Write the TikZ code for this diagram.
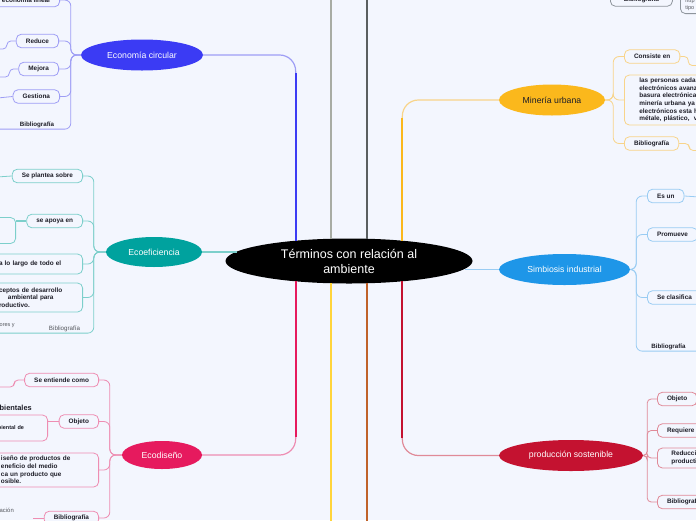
\documentclass[tikz,border=0pt]{standalone}
\usepackage{fontspec}
\setmainfont{Liberation Sans}
\usepackage{tikz}
\usetikzlibrary{shapes.geometric, calc}

\definecolor{fondo}{HTML}{F3F6FE}
\definecolor{tinta}{HTML}{1E1E28}
\definecolor{gristxt}{HTML}{55585E}
\definecolor{azul}{HTML}{3B3BF4}
\definecolor{azulB}{HTML}{9E9EF5}
\definecolor{teal}{HTML}{00A29E}
\definecolor{tealB}{HTML}{7CCFCB}
\definecolor{rosa}{HTML}{E61A5E}
\definecolor{rosaB}{HTML}{EE8DB2}
\definecolor{ambar}{HTML}{FBB81C}
\definecolor{ambarB}{HTML}{F8D48A}
\definecolor{celeste}{HTML}{1E96E8}
\definecolor{celesteB}{HTML}{99CCF3}
\definecolor{rojo}{HTML}{C41230}
\definecolor{rojoB}{HTML}{E08A98}
\definecolor{grisB}{HTML}{8E959C}
\definecolor{gris}{HTML}{A8ACA4}
\definecolor{oscuro}{HTML}{5A5F60}
\definecolor{amarillo}{HTML}{FFD43B}
\definecolor{marron}{HTML}{C0622A}

\begin{document}
\begin{tikzpicture}[x=1pt, y=-1pt,
   tema/.style={ellipse, inner sep=0pt, text=white, font=\fontsize{8.7}{10}\selectfont},
   caja/.style={rectangle, rounded corners=5pt, draw, fill=fondo, line width=0.8pt, inner xsep=9.6pt, inner ysep=0pt, minimum height=13.5pt, text=tinta, font=\bfseries\fontsize{6.4}{7.6}\selectfont},
   nota/.style={inner sep=1pt, text=tinta, font=\bfseries\fontsize{6.2}{7}\selectfont},
   rama/.style={line width=0.8pt, rounded corners=6pt},
   enlace/.style={line width=1.2pt, rounded corners=16pt},
   tronco/.style={line width=1.8pt}]

\useasboundingbox (0,0) rectangle (696,520);
\fill[fondo] (0,0) rectangle (696,520);
\clip (0,0) rectangle (696,520);

\node[ellipse, fill=black, text=white, inner sep=0pt, minimum width=247pt, minimum height=45pt, align=center, font=\fontsize{12.5}{15}\selectfont] (centro) at (349,261) {Términos con relación al\\ambiente};

\node[tema, fill=azul, minimum width=122pt, minimum height=31pt] (eco) at (142,55) {Economía circular};
\node[tema, fill=teal, minimum width=96pt, minimum height=30pt] (ecoef) at (154,252) {Ecoeficiencia};
\node[tema, fill=rosa, minimum width=80pt, minimum height=28pt] (ecodis) at (162,455) {Ecodiseño};
\node[tema, fill=ambar, text=tinta, minimum width=106pt, minimum height=31pt] (mineria) at (552,100) {Minería urbana};
\node[tema, fill=celeste, minimum width=131pt, minimum height=31pt] (simbiosis) at (564.5,269.5) {Simbiosis industrial};
\node[tema, fill=rojo, minimum width=144pt, minimum height=31pt] (prod) at (571,455.5) {producción sostenible};

\coordinate (g1) at (331,-5);
\coordinate (g2) at (367,-5);
\coordinate (g3) at (331,525);
\coordinate (g4) at (367,525);
\draw[tronco, gris] (g1) -- (g1 |- centro.129);
\draw[tronco, oscuro] (g2) -- (g2 |- centro.51);
\draw[tronco, amarillo] (g3) -- (g3 |- centro.231);
\draw[tronco, marron] (g4) -- (g4 |- centro.309);

\draw[enlace, azulB] (eco.east) -| (centro.159);
\draw[tronco, azul] (centro.159) -- ($(centro.159 |- eco.east)+(0,18)$);
\draw[enlace, tealB] (ecoef.east) -- (ecoef.east -| centro.175);
\draw[enlace, rosaB] (ecodis.east) -| (centro.201);
\draw[tronco, rosa] (centro.201) -- ($(centro.201 |- ecodis.east)+(0,-18)$);
\draw[enlace, ambarB] (mineria.west) -| (centro.21);
\draw[tronco, ambar] (centro.21) -- ($(centro.21 |- mineria.west)+(0,18)$);
\draw[enlace, celesteB] (simbiosis.west) -- (simbiosis.west -| centro.356);
\draw[enlace, rojoB] (prod.west) -| (centro.339);
\draw[tronco, rojo] (centro.339) -- ($(centro.339 |- prod.west)+(0,-18)$);

\node[caja, draw=azulB, anchor=east] (lineal) at (60,0) {economía lineal};
\node[caja, draw=azulB, anchor=east] (reduce) at (59,41) {Reduce};
\node[caja, draw=azulB, anchor=east] (mejora) at (59,69) {Mejora};
\node[caja, draw=azulB, anchor=east] (gestiona) at (60,96.5) {Gestiona};
\node[nota] (bibA) at (37,125) {Bibliografía};
\foreach \n in {lineal,reduce,mejora,gestiona}
   \draw[rama, azulB] (eco.west) -- ++(-10,0) |- (\n.east);
\draw[rama, azulB] (eco.west) -- ++(-10,0) |- (bibA.south west) -- ++(-40,0);
\draw[rama, azulB, rounded corners=4pt] (reduce.west) -- ++(-9,0) |- ++(-20,8);
\draw[rama, azulB, rounded corners=4pt] (mejora.west) -- ++(-9,0) |- ++(-20,8);
\draw[rama, azulB] (gestiona.west) -- ++(-20,2);

\node[caja, draw=tealB, anchor=east] (plantea) at (83,176) {Se plantea sobre};
\node[caja, draw=tealB, anchor=east] (apoya) at (83,221) {se apoya en};
\node[caja, draw=tealB, anchor=east, text width=74pt, align=left, minimum height=20pt] (largo) at (83,264) {a lo largo de todo el};
\node[caja, draw=tealB, anchor=east, text width=74pt, align=left, minimum height=29pt] (conceptos) at (83,297.5) {ceptos de desarrollo\\\hspace*{9pt}ambiental para\\roductivo.};
\node[caja, draw=tealB, anchor=east, minimum width=80pt, minimum height=26pt] (apoyoB) at (16,230.5) {};
\node[nota, font=\fontsize{6.2}{7}\selectfont, text=gristxt] (bibB) at (64.5,329) {Bibliografía};
\node[anchor=west, inner sep=0pt, font=\fontsize{5.5}{7}\selectfont, text=gristxt] (autores) at (-0.5,326) {ores y};
\foreach \n in {plantea,apoya,largo,conceptos}
   \draw[rama, tealB] (ecoef.west) -- ++(-12,0) |- (\n.east);
\draw[rama, tealB] (ecoef.west) -- ++(-12,0) |- (bibB.south west) -- ++(-60,0);
\draw[rama, tealB] (plantea.west) -- ++(-15,1);
\draw[rama, tealB, line width=1.2pt] (apoya.west) -- (apoya.west -| apoyoB.east);

\node[caja, draw=rosaB, anchor=east] (entiende) at (99,380) {Se entiende como};
\node[caja, draw=rosaB, anchor=east] (objetoA) at (99,421.5) {Objeto};
\node[caja, draw=rosaB, anchor=east, text width=88pt, align=left, minimum height=34pt] (diseno) at (99,470) {iseño de productos de\\eneficio del medio\\ca un producto que\\osible.};
\node[caja, draw=rosaB, anchor=east] (bibC) at (99,518) {Bibliografía};
\node[caja, draw=rosaB, anchor=east, text width=40pt, align=left, minimum height=26pt, font=\bfseries\fontsize{5.5}{6.6}\selectfont] (ambiental) at (48,428) {biental de};
\node[anchor=west, inner sep=0pt, font=\bfseries\fontsize{7.4}{9}\selectfont, text=tinta] (ambientales) at (-0.5,408) {bientales};
\node[anchor=west, inner sep=0pt, font=\fontsize{5.9}{7}\selectfont, text=gristxt] (accion) at (-0.5,510) {ación};
\foreach \n in {entiende,objetoA,diseno,bibC}
   \draw[rama, rosaB] (ecodis.west) -- ++(-12,0) |- (\n.east);
\draw[rama, rosaB, rounded corners=4pt] (entiende.west) -- ++(-10,0) |- ++(-20,7);
\draw[rama, rosaB] (objetoA.west) -- (objetoA.west -| ambiental.east);
\draw[rama, rosaB] (bibC.west) -- ++(-11,0);

\node[caja, draw=ambarB, anchor=west] (consiste) at (624,56.5) {Consiste en};
\node[caja, draw=ambarB, anchor=west, text width=125pt, align=left, minimum height=50pt, inner xsep=15pt] (personas) at (624,100) {las personas cada\\electrónicos avanz\\basura electrónica\\minería urbana ya\\electrónicos esta h\\métale, plástico,\ \ v};
\node[caja, draw=ambarB, anchor=west] (bibD) at (624,143.5) {Bibliografía};
\foreach \n in {consiste,personas,bibD}
   \draw[rama, ambarB] (mineria.east) -- ++(8,0) |- (\n.west);
\draw[rama, ambarB, rounded corners=4pt] (consiste.east) -- ++(8,0) |- ++(20,9);
\draw[rama, ambarB, rounded corners=4pt] (bibD.east) -- ++(10,0) |- ++(20,7);

\node[caja, draw=grisB, anchor=west, minimum width=62pt] (bibG) at (610,-0.5) {Bibliografía};
\node[caja, draw=grisB, anchor=south west, text width=40pt, align=left, minimum height=18pt, inner xsep=5pt, font=\fontsize{5.5}{7}\selectfont, text=gristxt] (http) at (680,14) {http\\tipo};
\draw[rama, grisB] (bibG.east) -- (bibG.east -| http.west);

\node[caja, draw=celesteB, anchor=west] (esun) at (647,196) {Es un};
\node[caja, draw=celesteB, anchor=west] (promueve) at (647,234.5) {Promueve};
\node[caja, draw=celesteB, anchor=west] (clasifica) at (647,297.5) {Se clasifica};
\node[nota] (bibE) at (668.5,347) {Bibliografía};
\foreach \n in {esun,promueve,clasifica}
   \draw[rama, celesteB] (simbiosis.east) -- ++(6,0) |- (\n.west);
\draw[rama, celesteB] (simbiosis.east) -- ++(6,0) |- (bibE.south west) -- ++(60,0);
\draw[rama, celesteB] (esun.east) -- ++(15,1);

\node[caja, draw=rojoB, anchor=west] (objetoB) at (657,399) {Objeto};
\node[caja, draw=rojoB, anchor=west] (requiere) at (657,430.5) {Requiere};
\node[caja, draw=rojoB, anchor=west, text width=60pt, align=left, minimum height=20pt, inner xsep=14pt] (reduccion) at (657,458) {Reducci\\producti};
\node[caja, draw=rojoB, anchor=west] (bibF) at (657,502) {Bibliografía};
\foreach \n in {objetoB,requiere,reduccion,bibF}
   \draw[rama, rojoB, rounded corners=4pt] (prod.east) -- ++(4,0) |- (\n.west);
\end{tikzpicture}
\end{document}
